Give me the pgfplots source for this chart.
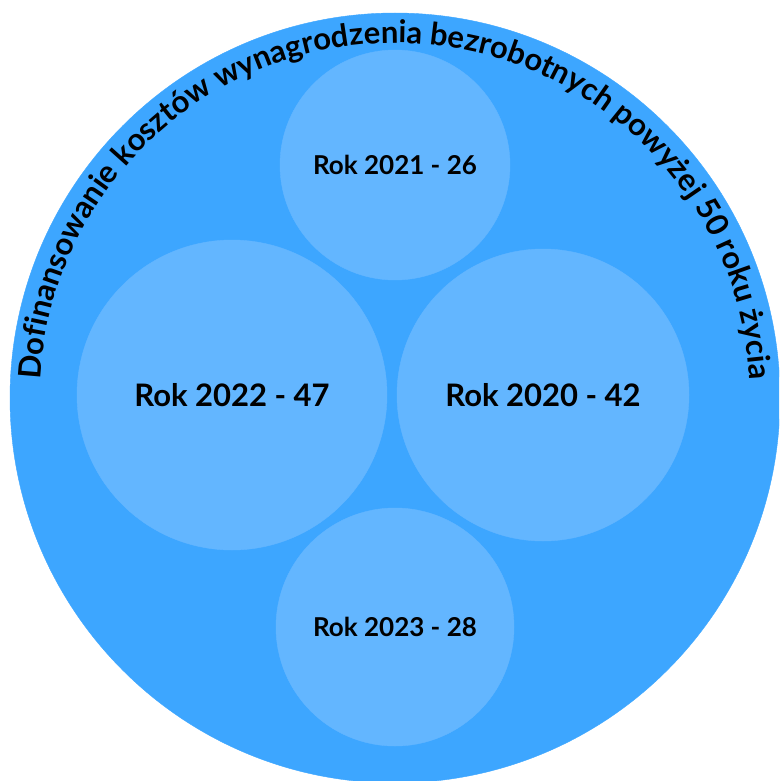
\documentclass[border=0pt]{standalone}
\usepackage{fontspec}
\setmainfont{Lato}
\usepackage{pgfplots}
\pgfplotsset{compat=1.18}
\usetikzlibrary{decorations.text}

\definecolor{outerblue}{HTML}{3DA6FF}
\definecolor{innerblue}{HTML}{63B6FF}

\pgfplotsset{
    bubble/.style 2 args={only marks, mark=*, mark size=#1pt,
        color=innerblue,
        mark options={draw=innerblue, fill=innerblue},
        scatter/use mapped color={draw=innerblue, fill=innerblue},
        point meta=explicit symbolic,
        nodes near coords, nodes near coords align=center,
        nodes near coords style={anchor=center, text=black,
            font=\fontsize{#2}{#2}\selectfont\bfseries}},
}

\begin{document}
\begin{tikzpicture}
% pixel coordinates of the reference, y counted from the top
\begin{axis}[
    x=1pt, y=1pt,
    xmin=0, xmax=779,
    ymin=0, ymax=781,
    y dir=reverse,
    hide axis,
    clip marker paths=true,
]
    % outer circle
    \addplot[only marks, mark=*, mark size=385pt, color=outerblue,
        mark options={draw=outerblue, fill=outerblue}] coordinates {(395,398)};

    % one circle per year
    \addplot[bubble={115}{26}] coordinates {(395,165) [Rok 2021 - 26]};
    \addplot[bubble={155}{31}] coordinates {(232,395) [Rok 2022 - 47]};
    \addplot[bubble={146}{31}] coordinates {(543,395) [Rok 2020 - 42]};
    \addplot[bubble={119}{26}] coordinates {(395,627) [Rok 2023 - 28]};

    \path[decorate, decoration={text along path, text align=center,
        text={|\fontsize{31}{31}\selectfont\bfseries|Dofinansowanie kosztów wynagrodzenia bezrobotnych powyżej 50 roku życia}}]
        (axis cs:395,398) ++(180:355pt) arc[start angle=180, end angle=0, radius=355pt];
\end{axis}
\pgfresetboundingbox
\useasboundingbox (current axis.south west) rectangle (current axis.north east);
\end{tikzpicture}
\end{document}
